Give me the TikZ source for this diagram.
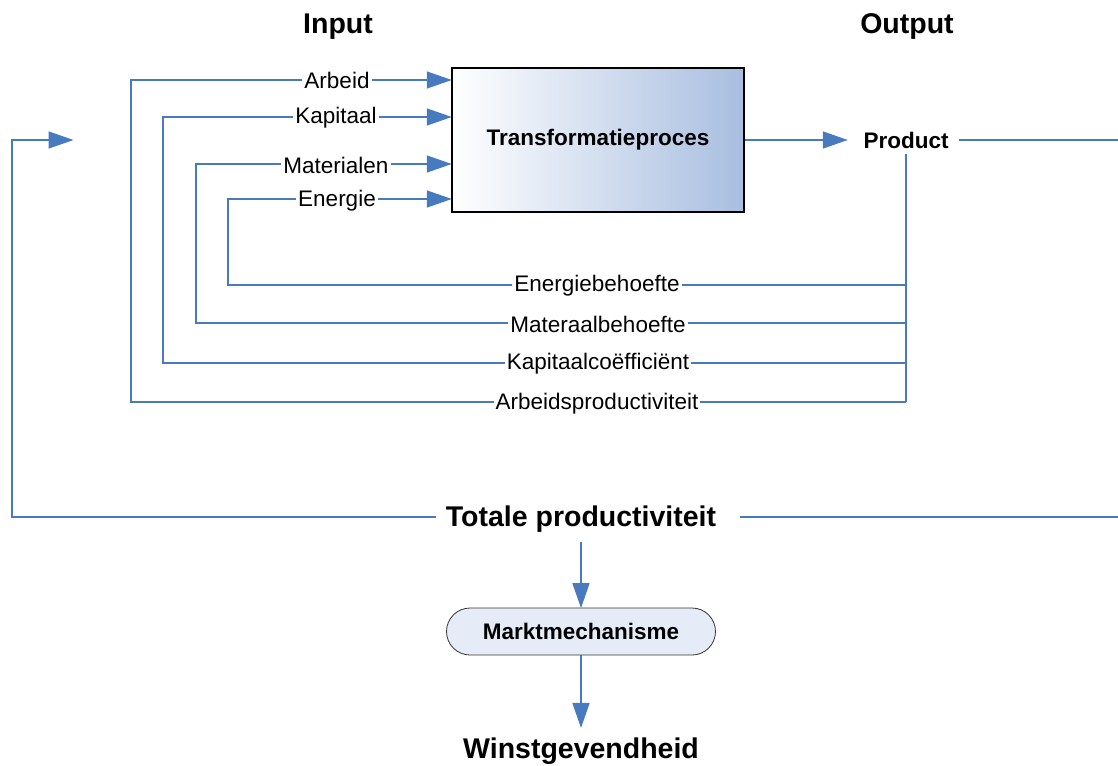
\documentclass[tikz,border=0pt]{standalone}
\usepackage{fontspec}
\setmainfont{Liberation Sans}
\usetikzlibrary{arrows.meta,calc}
\definecolor{flowblue}{RGB}{72,122,192}
\definecolor{boxblue}{RGB}{168,190,224}
\definecolor{pillfill}{RGB}{230,236,247}

\begin{document}
\begin{tikzpicture}[x=1pt,y=-1pt,
  wire/.style={draw=flowblue,line width=1.5pt},
  feed/.style={wire,-{Triangle[length=25pt,width=17pt]},shorten >=-0.5pt},
  lbl/.style={fill=white,inner xsep=2pt,inner ysep=1pt,font=\fontsize{22.5}{26}\selectfont},
  bold/.style={font=\bfseries\fontsize{22.5}{26}\selectfont},
  head/.style={font=\bfseries\fontsize{28.5}{32}\selectfont},
  procbox/.style={draw=black,line width=1.5pt,left color=white,right color=boxblue,
    minimum width=292pt,minimum height=144pt,bold},
  pill/.style={draw=black!80,line width=0.8pt,fill=pillfill,rounded corners=23.5pt,
    minimum width=269pt,minimum height=47pt,bold}]
\useasboundingbox (0,0) rectangle (1118,765);
\clip (0,0) rectangle (1118,765);

% headers
\node[head] (hin) at (338,27) {Input};
\node[head] (hout) at (907,27) {Output};

% process and product
\node[procbox] (proc) at (598,140) {Transformatieproces};
\node[bold,inner xsep=10pt,inner ysep=6pt] (prod) at (906,140) {Product};
\draw[feed] (proc.east) -- ([xshift=-6pt]prod.west);

% productivity and market chain
\node[head,inner xsep=10pt,inner ysep=10pt] (tot) at (581,519) {Totale productiviteit};
\node[pill] (mm) at (581,631.5) {Marktmechanisme};
\node[head,inner ysep=10pt] (win) at (581,751) {Winstgevendheid};
\draw[feed] (tot.south) -- (mm.north);
\draw[feed] (mm.south) -- (win.north);

% overall return loop
\coordinate (ret) at (73,140);
\draw[wire] (prod.east) -- (1140,140) |- ([xshift=14pt]tot.east |- 0,517);
\draw[feed] (tot.west |- 0,517) -| (12,140) -- (ret);

% feedback bus from the product to the inputs
\coordinate (bus) at (906,402);
\draw[wire] (prod.south) -- (bus);
\draw[feed] (906,285) -| (228,199) -- (proc.west |- 0,199);
\draw[feed] (906,323) -| (196,164) -- (proc.west |- 0,164);
\draw[feed] (906,363) -| (163,117) -- (proc.west |- 0,117);
\draw[feed] (bus) -| (131,80) -- (proc.west |- 0,80);

% input labels
\node[lbl] (lA) at (337,80) {Arbeid};
\node[lbl] (lK) at (336,118) {Kapitaal};
\node[lbl] (lM) at (336,165) {Materialen};
\node[lbl] (lE) at (337,201) {Energie};

% ratio labels
\node[lbl] (rE) at (597,286) {Energiebehoefte};
\node[lbl] (rM) at (598,324) {Materaalbehoefte};
\node[lbl] (rK) at (598,364) {Kapitaalcoëfficiënt};
\node[lbl] (rA) at (597,404) {Arbeidsproductiviteit};
\end{tikzpicture}
\end{document}
